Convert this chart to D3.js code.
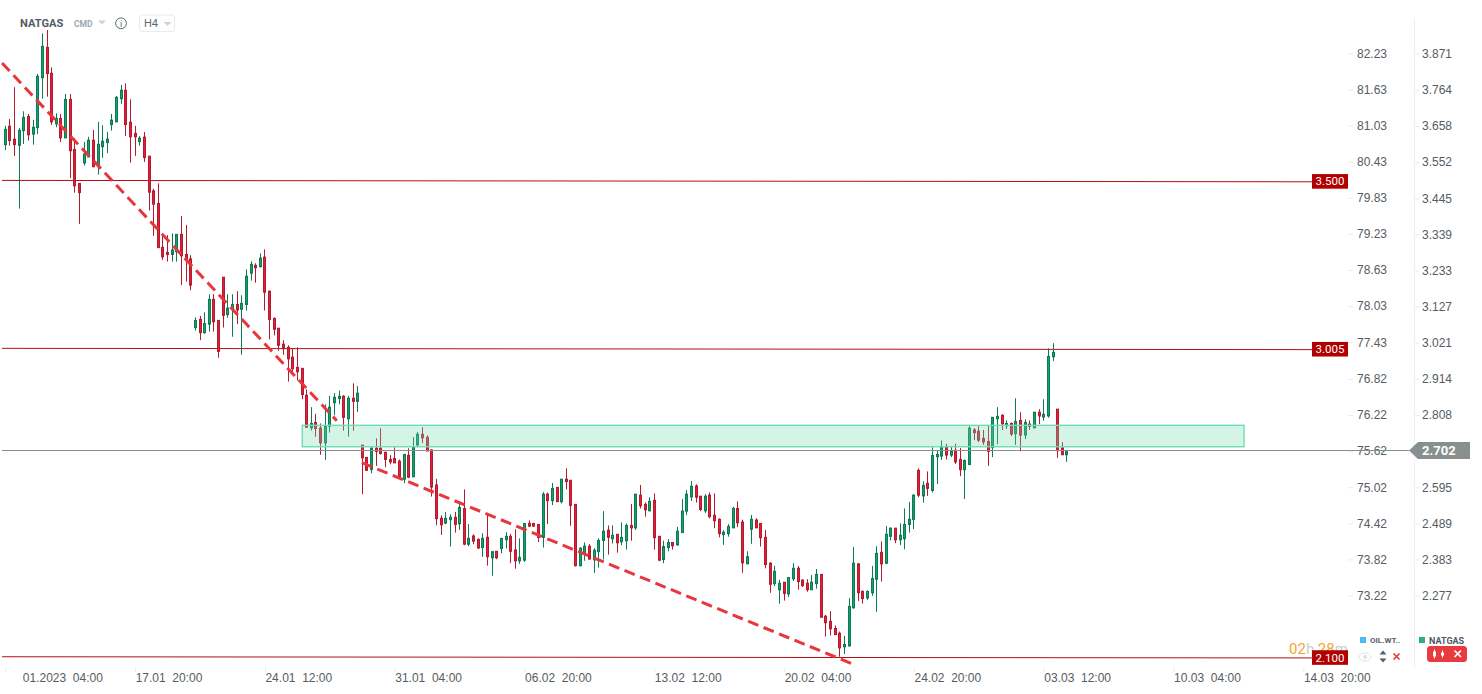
<!DOCTYPE html>
<html>
<head>
<meta charset="utf-8">
<script src="https://cdnjs.cloudflare.com/ajax/libs/d3/7.8.5/d3.min.js"></script>
<style>
  html, body { margin: 0; padding: 0; background: #fff; }
  svg { display: block; font-family: Roboto, sans-serif; }
  .axis text { font-size: 12px; fill: #565c61; }
  .axis line { stroke: #e9ebec; }
</style>
</head>
<body>
<div id="chart"></div>
<script>
const opens = [
  3.603,3.657,3.619,3.601,3.644,3.686,3.634,3.653,3.800,3.889,
  3.813,3.664,3.680,3.623,3.736,3.589,3.489,3.549,3.567,3.616,
  3.538,3.597,3.609,3.662,3.670,3.738,3.763,3.669,3.636,3.612,
  3.625,3.569,3.467,3.430,3.301,3.286,3.280,3.288,3.339,3.280,
  3.267,3.065,3.089,3.050,3.075,3.148,3.086,3.213,3.103,3.120,
  3.133,3.119,3.133,3.225,3.248,3.244,3.272,3.172,3.092,3.063,
  3.016,3.007,2.978,2.948,2.945,2.866,2.770,2.786,2.769,2.726,
  2.775,2.844,2.856,2.863,2.797,2.857,2.848,2.719,2.683,2.648,
  2.710,2.710,2.698,2.677,2.680,2.672,2.619,2.689,2.626,2.720,
  2.751,2.742,2.705,2.602,2.504,2.490,2.500,2.507,2.488,2.533,
  2.428,2.452,2.442,2.418,2.448,2.388,2.407,2.415,2.441,2.451,
  2.411,2.379,2.381,2.489,2.489,2.486,2.448,2.575,2.556,2.595,
  2.553,2.619,2.616,2.545,2.365,2.401,2.422,2.382,2.406,2.439,
  2.469,2.444,2.457,2.435,2.438,2.483,2.476,2.572,2.545,2.526,
  2.557,2.451,2.383,2.418,2.433,2.426,2.462,2.525,2.567,2.599,
  2.569,2.526,2.572,2.513,2.501,2.456,2.459,2.476,2.533,2.493,
  2.370,2.472,2.499,2.489,2.448,2.372,2.312,2.294,2.316,2.282,
  2.326,2.357,2.322,2.313,2.294,2.312,2.339,2.216,2.201,2.180,
  2.166,2.126,2.129,2.241,2.370,2.289,2.270,2.285,2.325,2.404,
  2.372,2.451,2.475,2.441,2.444,2.486,2.501,2.645,2.570,2.607,
  2.586,2.685,2.687,2.714,2.690,2.704,2.677,2.647,2.662,2.764,
  2.760,2.739,2.730,2.712,2.797,2.807,2.776,2.783,2.753,2.792,
  2.749,2.781,2.770,2.816,2.802,2.805,2.979,2.825,2.711,2.691
];
const highs = [
  3.658,3.678,3.772,3.652,3.701,3.693,3.676,3.811,3.930,3.940,
  3.830,3.695,3.693,3.752,3.752,3.622,3.490,3.611,3.626,3.646,
  3.670,3.660,3.640,3.693,3.746,3.778,3.783,3.736,3.658,3.628,
  3.640,3.569,3.473,3.489,3.334,3.337,3.342,3.340,3.393,3.367,
  3.278,3.095,3.099,3.110,3.163,3.163,3.087,3.214,3.163,3.163,
  3.172,3.160,3.236,3.260,3.254,3.283,3.295,3.173,3.095,3.064,
  3.028,3.013,3.003,3.007,2.946,2.883,2.831,2.811,2.783,2.839,
  2.864,2.872,2.880,2.866,2.864,2.901,2.893,2.719,2.685,2.715,
  2.739,2.769,2.700,2.690,2.713,2.677,2.692,2.710,2.743,2.758,
  2.772,2.748,2.707,2.620,2.513,2.523,2.516,2.523,2.553,2.589,
  2.487,2.457,2.445,2.460,2.514,2.406,2.408,2.446,2.463,2.458,
  2.472,2.445,2.490,2.498,2.490,2.486,2.581,2.580,2.608,2.595,
  2.619,2.651,2.616,2.545,2.419,2.433,2.428,2.416,2.445,2.525,
  2.483,2.483,2.457,2.492,2.489,2.546,2.575,2.602,2.551,2.566,
  2.577,2.451,2.438,2.443,2.433,2.479,2.560,2.587,2.614,2.604,
  2.569,2.575,2.580,2.577,2.504,2.469,2.487,2.538,2.554,2.500,
  2.407,2.514,2.504,2.489,2.470,2.375,2.364,2.323,2.316,2.330,
  2.372,2.364,2.325,2.325,2.337,2.355,2.339,2.220,2.231,2.189,
  2.171,2.158,2.269,2.419,2.372,2.292,2.292,2.364,2.422,2.436,
  2.481,2.477,2.475,2.489,2.533,2.552,2.575,2.651,2.613,2.642,
  2.713,2.704,2.733,2.723,2.715,2.723,2.711,2.677,2.775,2.769,
  2.775,2.764,2.775,2.801,2.831,2.810,2.792,2.786,2.857,2.816,
  2.795,2.792,2.816,2.825,2.854,3.004,3.019,2.825,2.728,2.704
];
const lows = [
  3.587,3.600,3.570,3.415,3.605,3.615,3.603,3.634,3.738,3.744,
  3.661,3.654,3.611,3.622,3.505,3.462,3.370,3.541,3.566,3.537,
  3.515,3.564,3.578,3.644,3.670,3.723,3.628,3.550,3.570,3.600,
  3.552,3.409,3.335,3.300,3.264,3.259,3.259,3.259,3.190,3.200,
  3.175,3.056,3.028,3.047,3.053,3.053,2.976,3.065,3.094,3.038,
  3.075,2.985,3.115,3.203,3.197,3.242,3.115,3.030,3.042,2.997,
  2.985,2.906,2.928,2.909,2.854,2.772,2.762,2.744,2.691,2.676,
  2.756,2.807,2.839,2.762,2.744,2.762,2.817,2.575,2.644,2.636,
  2.658,2.691,2.654,2.663,2.667,2.622,2.607,2.622,2.626,2.713,
  2.725,2.702,2.568,2.484,2.455,2.487,2.421,2.462,2.470,2.425,
  2.422,2.428,2.414,2.391,2.365,2.335,2.384,2.401,2.415,2.372,
  2.356,2.370,2.376,2.478,2.479,2.434,2.418,2.487,2.543,2.553,
  2.548,2.589,2.482,2.362,2.362,2.379,2.384,2.344,2.359,2.383,
  2.397,2.430,2.403,2.425,2.412,2.438,2.470,2.533,2.509,2.525,
  2.412,2.378,2.372,2.407,2.412,2.423,2.462,2.513,2.555,2.550,
  2.525,2.520,2.504,2.475,2.448,2.426,2.450,2.475,2.478,2.344,
  2.370,2.429,2.476,2.421,2.357,2.285,2.305,2.253,2.262,2.273,
  2.320,2.294,2.302,2.288,2.294,2.297,2.213,2.156,2.159,2.162,
  2.097,2.105,2.126,2.238,2.261,2.253,2.264,2.276,2.229,2.318,
  2.369,2.439,2.431,2.425,2.413,2.462,2.472,2.566,2.550,2.570,
  2.580,2.605,2.676,2.677,2.684,2.664,2.628,2.561,2.662,2.734,
  2.728,2.720,2.658,2.684,2.722,2.764,2.767,2.746,2.720,2.701,
  2.737,2.764,2.770,2.781,2.791,2.800,2.967,2.682,2.691,2.670
];
const closes = [
  3.648,3.615,3.603,3.645,3.683,3.632,3.654,3.804,3.892,3.812,
  3.670,3.680,3.623,3.736,3.585,3.482,3.462,3.575,3.616,3.538,
  3.604,3.613,3.619,3.675,3.742,3.763,3.662,3.626,3.626,3.622,
  3.565,3.463,3.428,3.300,3.273,3.280,3.293,3.339,3.276,3.266,
  3.190,3.086,3.050,3.077,3.148,3.082,2.995,3.101,3.122,3.133,
  3.117,3.136,3.216,3.251,3.241,3.269,3.169,3.089,3.060,3.013,
  3.003,2.973,2.944,2.935,2.868,2.772,2.783,2.768,2.726,2.775,
  2.831,2.860,2.863,2.801,2.857,2.848,2.872,2.682,2.645,2.710,
  2.701,2.695,2.677,2.670,2.667,2.626,2.692,2.625,2.713,2.751,
  2.741,2.702,2.596,2.503,2.485,2.504,2.507,2.486,2.536,2.428,
  2.445,2.437,2.417,2.445,2.391,2.406,2.388,2.445,2.451,2.407,
  2.379,2.389,2.489,2.481,2.481,2.448,2.575,2.556,2.592,2.553,
  2.619,2.612,2.542,2.365,2.416,2.422,2.384,2.410,2.439,2.466,
  2.448,2.454,2.432,2.448,2.483,2.476,2.575,2.541,2.529,2.554,
  2.447,2.381,2.421,2.433,2.423,2.466,2.525,2.575,2.598,2.566,
  2.530,2.569,2.509,2.497,2.459,2.463,2.480,2.533,2.491,2.373,
  2.391,2.501,2.476,2.447,2.368,2.310,2.348,2.313,2.283,2.330,
  2.357,2.318,2.306,2.294,2.316,2.339,2.213,2.197,2.179,2.162,
  2.123,2.133,2.245,2.372,2.285,2.268,2.289,2.327,2.401,2.370,
  2.457,2.475,2.441,2.454,2.486,2.501,2.572,2.572,2.601,2.592,
  2.689,2.692,2.715,2.690,2.701,2.670,2.647,2.674,2.769,2.756,
  2.734,2.729,2.701,2.801,2.804,2.782,2.783,2.752,2.789,2.749,
  2.786,2.775,2.816,2.805,2.810,2.980,2.992,2.703,2.691,2.700
];

// 2.702 is left out, the last price tag sits on that tick
const natgasTicks = [3.871,3.764,3.658,3.552,3.445,3.339,3.233,3.127,3.021,2.914,2.808,2.595,2.489,2.383,2.277];
const oilTicks = [82.23,81.63,81.03,80.43,79.83,79.23,78.63,78.03,77.43,76.82,76.22,75.62,75.02,74.42,73.82,73.22];
const timeBars = [0,28,56,84,112,140,168,196,224,252,280];
const timeLabels = ["01.2023","17.01","24.01","31.01","06.02","13.02","20.02","24.02","03.03","10.03","14.03"];
const timeHours = ["04:00","20:00","12:00","04:00","20:00","12:00","04:00","20:00","12:00","04:00","20:00"];

// horizontal levels are drawn by hand in the source, so they lean slightly
const levelLabels = ["3.500","3.005","2.100"];
const levelStart = [3.4978,3.0039,2.0969];
const levelEnd = [3.4937,3.0001,2.0934];
const lastPrice = 2.702;

// trend lines: bar index and price at both ends
const trendBars = [[-0.7,71.5],[76.9,183.3]];
const trendPrices = [[3.843,2.791],[2.6675,2.0725]];

const zoneBars = [64.06,267.2];
const zonePrices = [2.7775,2.7145];

const width = 1482;
const height = 694;

const svg = d3.select("#chart").append("svg")
  .attr("width", width)
  .attr("height", height);

const x = d3.scaleLinear().domain([0,229]).range([5.33,1066.97]);
const y = d3.scaleLinear().domain([2.277,3.871]).range([595.5,53.5]);
const yOil = d3.scaleLinear().domain([73.22,82.23]).range([595.5,53.5]);

const GREEN = "#0c7a52", GREEN_FILL = "#16a06c";
const RED = "#b51a2e", RED_FILL = "#e41f3b";

const barX = (i) => Math.floor(x(i)) + 0.5;
const isUp = (i) => closes[i] >= opens[i];

// levels
const tagRight = 1348;
const tagLeft = 1312;
svg.selectAll("line.level")
  .data(levelLabels)
  .enter()
  .append("line")
  .attr("class", "level")
  .attr("x1", 2)
  .attr("x2", tagLeft)
  .attr("y1", (d, i) => y(levelStart[i]))
  .attr("y2", (d, i) => y(levelEnd[i]))
  .attr("stroke", "#b60d12")
  .attr("stroke-width", 1);

// candles
const bars = d3.range(opens.length);
svg.selectAll("line.wick")
  .data(bars)
  .enter()
  .append("line")
  .attr("class", "wick")
  .attr("x1", barX)
  .attr("x2", barX)
  .attr("y1", (i) => y(highs[i]))
  .attr("y2", (i) => y(lows[i]))
  .attr("stroke", (i) => (isUp(i) ? GREEN : RED))
  .attr("stroke-width", 1);

svg.selectAll("rect.body")
  .data(bars)
  .enter()
  .append("rect")
  .attr("class", "body")
  .attr("x", (i) => barX(i) - 1)
  .attr("width", 2)
  .attr("y", (i) => y(Math.max(opens[i], closes[i])))
  .attr("height", (i) => Math.abs(y(opens[i]) - y(closes[i])))
  .attr("fill", (i) => (isUp(i) ? GREEN_FILL : RED_FILL))
  .attr("stroke", (i) => (isUp(i) ? GREEN : RED))
  .attr("stroke-width", 1);

// green zone sits over the candles
svg.append("rect")
  .attr("x", x(zoneBars[0]))
  .attr("y", y(zonePrices[0]))
  .attr("width", x(zoneBars[1]) - x(zoneBars[0]))
  .attr("height", y(zonePrices[1]) - y(zonePrices[0]))
  .attr("fill", "#6fdcb3")
  .attr("fill-opacity", 0.3)
  .attr("stroke", "#6fdcb3")
  .attr("stroke-width", 1.4);

// dashed trend lines
svg.selectAll("line.trend")
  .data(trendBars)
  .enter()
  .append("line")
  .attr("class", "trend")
  .attr("x1", (d) => x(d[0]))
  .attr("x2", (d) => x(d[1]))
  .attr("y1", (d, i) => y(trendPrices[i][0]))
  .attr("y2", (d, i) => y(trendPrices[i][1]))
  .attr("stroke", "#e8373c")
  .attr("stroke-width", 3)
  .attr("stroke-dasharray", "11,5.7");

// price axes
svg.append("g")
  .attr("class", "axis")
  .attr("transform", "translate(1348,0)")
  .call(d3.axisRight(yOil).tickValues(oilTicks).tickSize(5).tickPadding(4).tickFormat(d3.format(".2f")))
  .call((g) => g.select(".domain").remove());

svg.append("g")
  .attr("class", "axis")
  .attr("transform", "translate(1415,0)")
  .call(d3.axisRight(y).tickValues(natgasTicks).tickSize(5).tickPadding(2).tickFormat(d3.format(".3f")))
  .call((g) => g.select(".domain").remove());

svg.append("line")
  .attr("x1", 1414.5)
  .attr("x2", 1414.5)
  .attr("y1", 18)
  .attr("y2", 668)
  .attr("stroke", "#eef0f1");

// time axis
const timeAxis = svg.append("g")
  .attr("class", "axis")
  .attr("transform", "translate(0,667)")
  .call(d3.axisBottom(x).tickValues(timeBars).tickSize(5)
    .tickFormat((d, i) => timeLabels[i] + "\u00a0\u00a0" + timeHours[i]))
  .call((g) => g.select(".domain").remove());

timeAxis.selectAll("text")
  .attr("text-anchor", "start")
  .attr("y", 6)
  .attr("x", (d, i) => (i === 0 ? 17 : 0));

// last price line and tag
const lastY = Math.floor(y(lastPrice)) + 0.5;
svg.append("line")
  .attr("x1", 2)
  .attr("x2", 1409)
  .attr("y1", lastY)
  .attr("y2", lastY)
  .attr("stroke", "#87908f")
  .attr("stroke-width", 1);

svg.append("path")
  .attr("d", `M1409,${lastY}L1418,${lastY - 8.5}H1470V${lastY + 8.5}H1418Z`)
  .attr("fill", "#87908f");

svg.append("text")
  .attr("x", 1422)
  .attr("y", lastY + 4.5)
  .attr("font-size", 13)
  .attr("font-weight", 700)
  .attr("fill", "#fff")
  .text(lastPrice.toFixed(3));

// countdown goes under the 2.100 tag
const countdown = svg.append("text")
  .attr("x", 1289)
  .attr("y", 654)
  .attr("font-size", 15);
countdown.append("tspan").attr("fill", "#f6a52b").text("02");
countdown.append("tspan").attr("fill", "#c9cdd0").text("h ");
countdown.append("tspan").attr("fill", "#f6a52b").text("28");
countdown.append("tspan").attr("fill", "#c9cdd0").text("m");

// level tags
levelLabels.forEach((label, i) => {
  const tagY = y(levelEnd[i]) - 0.4;
  svg.append("rect")
    .attr("x", tagLeft)
    .attr("y", tagY - 7.3)
    .attr("width", tagRight - tagLeft)
    .attr("height", 14.6)
    .attr("fill", "#b00000");
  svg.append("text")
    .attr("x", (tagLeft + tagRight) / 2)
    .attr("y", tagY + 4)
    .attr("text-anchor", "middle")
    .attr("font-size", 11.5)
    .attr("fill", "#fff")
    .text(label);
});

// header
svg.append("text")
  .attr("x", 20).attr("y", 27)
  .attr("font-size", 11.1).attr("font-weight", 700).attr("fill", "#515c66")
  .text("NATGAS");
svg.append("text")
  .attr("x", 74).attr("y", 27)
  .attr("font-size", 8.5).attr("font-weight", 700).attr("fill", "#9aa8b2")
  .text("CMD");
svg.append("path").attr("d", "M98,20.5h8l-4,4Z").attr("fill", "#cfd3d6");
svg.append("circle")
  .attr("cx", 121).attr("cy", 23.3).attr("r", 5.4)
  .attr("fill", "none").attr("stroke", "#5d6870").attr("stroke-width", 1);
svg.append("text")
  .attr("x", 121).attr("y", 26.6).attr("text-anchor", "middle")
  .attr("font-size", 9).attr("fill", "#5d6870")
  .text("i");
svg.append("rect")
  .attr("x", 139.5).attr("y", 15).attr("width", 35).attr("height", 16.5).attr("rx", 3)
  .attr("fill", "#fff").attr("stroke", "#e8eaeb");
svg.append("text")
  .attr("x", 144).attr("y", 27)
  .attr("font-size", 11).attr("fill", "#5d6870")
  .text("H4");
svg.append("path").attr("d", "M163.5,22h8l-4,4Z").attr("fill", "#cfd3d6");

// legend
svg.append("rect").attr("x", 1360).attr("y", 637).attr("width", 6).attr("height", 6).attr("fill", "#4cb9f4");
svg.append("text")
  .attr("x", 1370).attr("y", 643)
  .attr("font-size", 8).attr("font-weight", 700).attr("fill", "#56616b")
  .text("OIL.WT..");
svg.append("rect").attr("x", 1419).attr("y", 637).attr("width", 6).attr("height", 6).attr("fill", "#2bb37b");
svg.append("text")
  .attr("x", 1429).attr("y", 643.5)
  .attr("font-size", 9).attr("font-weight", 700).attr("fill", "#4d5862")
  .text("NATGAS");

// legend controls
svg.append("ellipse")
  .attr("cx", 1365).attr("cy", 657).attr("rx", 6).attr("ry", 4)
  .attr("fill", "none").attr("stroke", "#dfe3e5");
svg.append("circle").attr("cx", 1365).attr("cy", 657).attr("r", 2).attr("fill", "#dfe3e5");
svg.append("path").attr("d", "M1379.5,654.5l3.5,-4l3.5,4Z M1379.5,658.5l3.5,4l3.5,-4Z").attr("fill", "#565f66");
svg.append("path").attr("d", "M1393.5,653.5l6,6m0,-6l-6,6")
  .attr("stroke", "#e8373c").attr("stroke-width", 1.6).attr("fill", "none");
svg.append("rect")
  .attr("x", 1427).attr("y", 646).attr("width", 40).attr("height", 16).attr("rx", 3.5)
  .attr("fill", "#e93a3f");
svg.append("path")
  .attr("d", "M1434.5,649.5v9 M1442.5,650.5v7")
  .attr("stroke", "#fff").attr("stroke-width", 1).attr("fill", "none");
svg.append("rect").attr("x", 1433).attr("y", 651.5).attr("width", 3).attr("height", 5).attr("fill", "#fff");
svg.append("rect").attr("x", 1441).attr("y", 652.5).attr("width", 3).attr("height", 3).attr("fill", "#fff");
svg.append("path").attr("d", "M1454.5,650.5l6.5,6.5m0,-6.5l-6.5,6.5")
  .attr("stroke", "#fff").attr("stroke-width", 1.7).attr("fill", "none");
</script>
</body>
</html>
